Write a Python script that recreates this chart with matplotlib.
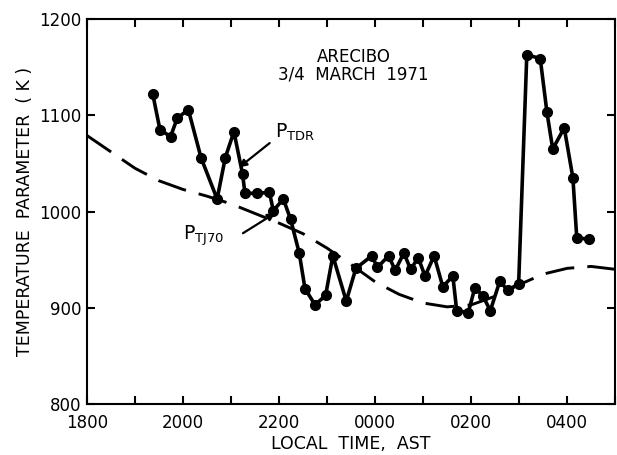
import matplotlib
matplotlib.use("Agg")
import matplotlib.pyplot as plt
import numpy as np

plt.rcParams['font.family'] = ['DejaVu Sans']
plt.rcParams['mathtext.default'] = 'regular'

# Measured P_TDR (hours after 00 on 3 March; 24 = midnight)
tdr_hours = [19.37, 19.52, 19.74, 19.88, 20.11, 20.375, 20.71, 20.88, 21.06, 21.24,
             21.29, 21.55, 21.80, 21.88, 22.09, 22.24, 22.42, 22.54, 22.75, 22.97,
             23.12, 23.40, 23.60, 23.93, 24.05, 24.28, 24.42, 24.60, 24.74, 24.90,
             25.04, 25.23, 25.41, 25.62, 25.70, 25.94, 26.08, 26.25, 26.40, 26.60,
             26.76, 26.99, 27.16, 27.44, 27.58, 27.70, 27.94, 28.12, 28.20, 28.46]
tdr_values = [1122, 1085, 1078, 1097, 1106, 1056, 1013, 1056, 1083, 1039,
              1019, 1019, 1020, 1001, 1013, 992, 957, 920, 903, 913,
              954, 907, 941, 954, 942, 954, 939, 957, 940, 952,
              933, 954, 922, 933, 897, 895, 921, 912, 897, 928,
              918, 925, 1163, 1159, 1103, 1065, 1087, 1035, 973, 971]

# Model P_TJ70 (dashed)
tj70_hours = [18.0, 18.5, 19.0, 19.5, 20.0, 20.5, 21.0, 21.5, 22.0, 22.5, 23.0, 23.5,
              24.0, 24.5, 25.0, 25.5, 26.0, 26.5, 27.0, 27.5, 28.0, 28.5, 29.0]
tj70_values = [1079, 1062, 1045, 1032, 1023, 1016, 1008, 998, 988, 977, 962, 945,
               927, 914, 905, 901, 903, 912, 924, 935, 941, 943, 940]

xtick_pos = [18, 20, 22, 24, 26, 28]
xtick_labels = ['1800', '2000', '2200', '0000', '0200', '0400']
ytick_pos = [800, 900, 1000, 1100, 1200]

fig = plt.figure(figsize=(6.17, 4.55), dpi=100)
ax = fig.add_axes([0.141, 0.112, 0.856, 0.846])

ax.plot(tj70_hours, tj70_values, color='black', lw=2.1, linestyle=(0, (10, 4.5)),
        solid_capstyle='butt')
ax.plot(tdr_hours, tdr_values, color='black', lw=2.6, marker='o', markersize=7)

ax.set_xlim(18, 29)
ax.set_ylim(800, 1200)
ax.set_xticks(xtick_pos)
ax.set_xticklabels(xtick_labels)
ax.set_xticks(np.arange(18, 30, 1), minor=True)
ax.set_yticks(ytick_pos)

for s in ax.spines.values():
    s.set_linewidth(1.5)
ax.tick_params(axis='both', which='both', direction='in', top=True, right=True,
               width=1.5, labelsize=12)
ax.tick_params(axis='both', which='major', length=6)
ax.tick_params(axis='x', which='minor', length=6)
ax.tick_params(axis='x', pad=7)
ax.tick_params(axis='y', pad=4)

ax.set_xlabel('LOCAL  TIME,  AST', fontsize=12.5, labelpad=2)
ax.set_ylabel('TEMPERATURE  PARAMETER  ( K )', fontsize=12.5, labelpad=4)

ax.text(23.55, 1161, 'ARECIBO', ha='center', va='center', fontsize=12)
ax.text(23.55, 1142, '3/4  MARCH  1971', ha='center', va='center', fontsize=12)

ax.annotate('', xy=(21.12, 1044), xytext=(21.85, 1073),
            arrowprops=dict(arrowstyle='-|>', color='black', lw=1.6, mutation_scale=11))
ax.text(21.92, 1082, r'P$_{TDR}$', fontsize=13.5, ha='left', va='center')
ax.annotate('', xy=(21.97, 1000), xytext=(21.2, 976),
            arrowprops=dict(arrowstyle='-|>', color='black', lw=1.6, mutation_scale=11))
ax.text(20.0, 975, r'P$_{TJ70}$', fontsize=13.5, ha='left', va='center')

fig.savefig('out.png', dpi=100)
